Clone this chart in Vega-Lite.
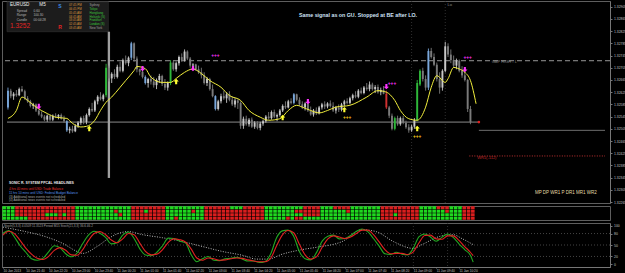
{
"$schema":"https://vega.github.io/schema/vega-lite/v6.json",
"background":"#000000",
"padding":0,
"spacing":1,
"resolve":{"scale":{"color":"independent"}},
"config":{"view":{"stroke":"#5e5e5e","strokeWidth":1},"font":"Liberation Sans","text":{"font":"Liberation Sans"},"axis":{"labelFont":"Liberation Sans"}},
"datasets":{
"candles":[
{"t":"2013-01-10T21:00","o":1.32575,"h":1.3264,"l":1.32568,"c":1.3263,"v":"rising"},
{"t":"2013-01-10T21:05","o":1.3263,"h":1.32636,"l":1.32605,"c":1.32612,"v":"down"},
{"t":"2013-01-10T21:10","o":1.32612,"h":1.32625,"l":1.326,"c":1.3262,"v":"up"},
{"t":"2013-01-10T21:15","o":1.3262,"h":1.32632,"l":1.3261,"c":1.32615,"v":"down"},
{"t":"2013-01-10T21:20","o":1.32615,"h":1.3264,"l":1.32612,"c":1.32635,"v":"up"},
{"t":"2013-01-10T21:25","o":1.32635,"h":1.32645,"l":1.32625,"c":1.32628,"v":"down"},
{"t":"2013-01-10T21:30","o":1.32628,"h":1.32633,"l":1.326,"c":1.32605,"v":"down"},
{"t":"2013-01-10T21:35","o":1.32605,"h":1.32612,"l":1.3259,"c":1.32595,"v":"down"},
{"t":"2013-01-10T21:40","o":1.32595,"h":1.326,"l":1.32575,"c":1.3258,"v":"down"},
{"t":"2013-01-10T21:45","o":1.3258,"h":1.3259,"l":1.3257,"c":1.32585,"v":"up"},
{"t":"2013-01-10T21:50","o":1.32585,"h":1.32588,"l":1.3256,"c":1.32565,"v":"down"},
{"t":"2013-01-10T21:55","o":1.32565,"h":1.32568,"l":1.32548,"c":1.32552,"v":"down"},
{"t":"2013-01-10T22:00","o":1.32552,"h":1.32562,"l":1.3254,"c":1.32545,"v":"down"},
{"t":"2013-01-10T22:05","o":1.32545,"h":1.3255,"l":1.3253,"c":1.32535,"v":"down"},
{"t":"2013-01-10T22:10","o":1.32535,"h":1.32552,"l":1.32528,"c":1.32548,"v":"up"},
{"t":"2013-01-10T22:15","o":1.32548,"h":1.32552,"l":1.3253,"c":1.32535,"v":"down"},
{"t":"2013-01-10T22:20","o":1.32535,"h":1.32552,"l":1.3253,"c":1.32548,"v":"up"},
{"t":"2013-01-10T22:25","o":1.32548,"h":1.32556,"l":1.3254,"c":1.32545,"v":"down"},
{"t":"2013-01-10T22:30","o":1.32545,"h":1.32553,"l":1.32536,"c":1.3255,"v":"up"},
{"t":"2013-01-10T22:35","o":1.3255,"h":1.32555,"l":1.32535,"c":1.32538,"v":"down"},
{"t":"2013-01-10T22:40","o":1.32538,"h":1.32548,"l":1.32525,"c":1.3253,"v":"down"},
{"t":"2013-01-10T22:45","o":1.3253,"h":1.32533,"l":1.32495,"c":1.325,"v":"rising"},
{"t":"2013-01-10T22:50","o":1.325,"h":1.32512,"l":1.3249,"c":1.32505,"v":"up"},
{"t":"2013-01-10T22:55","o":1.32505,"h":1.32515,"l":1.32492,"c":1.32497,"v":"down"},
{"t":"2013-01-10T23:00","o":1.32497,"h":1.3252,"l":1.32494,"c":1.32515,"v":"up"},
{"t":"2013-01-10T23:05","o":1.32515,"h":1.3253,"l":1.32508,"c":1.32525,"v":"up"},
{"t":"2013-01-10T23:10","o":1.32525,"h":1.32545,"l":1.32518,"c":1.3254,"v":"up"},
{"t":"2013-01-10T23:15","o":1.3254,"h":1.32548,"l":1.3252,"c":1.32528,"v":"down"},
{"t":"2013-01-10T23:20","o":1.32528,"h":1.32555,"l":1.3252,"c":1.3255,"v":"up"},
{"t":"2013-01-10T23:25","o":1.3255,"h":1.32575,"l":1.32545,"c":1.3257,"v":"up"},
{"t":"2013-01-10T23:30","o":1.3257,"h":1.3259,"l":1.3256,"c":1.32565,"v":"down"},
{"t":"2013-01-10T23:35","o":1.32565,"h":1.326,"l":1.3256,"c":1.32595,"v":"up"},
{"t":"2013-01-10T23:40","o":1.32595,"h":1.32615,"l":1.32585,"c":1.3261,"v":"up"},
{"t":"2013-01-10T23:45","o":1.3261,"h":1.32625,"l":1.32598,"c":1.32602,"v":"down"},
{"t":"2013-01-10T23:50","o":1.32602,"h":1.3262,"l":1.32595,"c":1.32615,"v":"up"},
{"t":"2013-01-10T23:55","o":1.32615,"h":1.32718,"l":1.32608,"c":1.32705,"v":"bull climax"},
{"t":"2013-01-11T00:00","o":1.32705,"h":1.32712,"l":1.3266,"c":1.3267,"v":"down"},
{"t":"2013-01-11T00:05","o":1.3267,"h":1.3269,"l":1.32655,"c":1.32685,"v":"up"},
{"t":"2013-01-11T00:10","o":1.32685,"h":1.327,"l":1.32668,"c":1.32675,"v":"down"},
{"t":"2013-01-11T00:15","o":1.32675,"h":1.32715,"l":1.3267,"c":1.32708,"v":"up"},
{"t":"2013-01-11T00:20","o":1.32708,"h":1.32725,"l":1.3269,"c":1.32695,"v":"down"},
{"t":"2013-01-11T00:25","o":1.32695,"h":1.32735,"l":1.3269,"c":1.3273,"v":"up"},
{"t":"2013-01-11T00:30","o":1.3273,"h":1.32745,"l":1.32715,"c":1.3272,"v":"down"},
{"t":"2013-01-11T00:35","o":1.3272,"h":1.32742,"l":1.3271,"c":1.32738,"v":"up"},
{"t":"2013-01-11T00:40","o":1.32738,"h":1.3279,"l":1.3273,"c":1.32785,"v":"rising"},
{"t":"2013-01-11T00:45","o":1.32785,"h":1.32788,"l":1.32725,"c":1.32735,"v":"down"},
{"t":"2013-01-11T00:50","o":1.32735,"h":1.32742,"l":1.3269,"c":1.327,"v":"down"},
{"t":"2013-01-11T00:55","o":1.327,"h":1.32702,"l":1.3268,"c":1.32692,"v":"down"},
{"t":"2013-01-11T01:00","o":1.32692,"h":1.32698,"l":1.3267,"c":1.32675,"v":"down"},
{"t":"2013-01-11T01:05","o":1.32675,"h":1.3268,"l":1.3265,"c":1.32655,"v":"rising"},
{"t":"2013-01-11T01:10","o":1.32655,"h":1.32672,"l":1.3264,"c":1.32668,"v":"up"},
{"t":"2013-01-11T01:15","o":1.32668,"h":1.3268,"l":1.3265,"c":1.3266,"v":"down"},
{"t":"2013-01-11T01:20","o":1.3266,"h":1.32675,"l":1.3264,"c":1.32648,"v":"down"},
{"t":"2013-01-11T01:25","o":1.32648,"h":1.3267,"l":1.32635,"c":1.32665,"v":"up"},
{"t":"2013-01-11T01:30","o":1.32665,"h":1.32685,"l":1.32655,"c":1.32678,"v":"up"},
{"t":"2013-01-11T01:35","o":1.32678,"h":1.32682,"l":1.32645,"c":1.32652,"v":"down"},
{"t":"2013-01-11T01:40","o":1.32652,"h":1.32668,"l":1.32632,"c":1.3264,"v":"down"},
{"t":"2013-01-11T01:45","o":1.3264,"h":1.3266,"l":1.3263,"c":1.32655,"v":"up"},
{"t":"2013-01-11T01:50","o":1.32655,"h":1.3273,"l":1.32648,"c":1.32722,"v":"bull climax"},
{"t":"2013-01-11T01:55","o":1.32722,"h":1.32728,"l":1.32695,"c":1.327,"v":"down"},
{"t":"2013-01-11T02:00","o":1.327,"h":1.32725,"l":1.32692,"c":1.3272,"v":"up"},
{"t":"2013-01-11T02:05","o":1.3272,"h":1.32745,"l":1.32712,"c":1.3274,"v":"up"},
{"t":"2013-01-11T02:10","o":1.3274,"h":1.32752,"l":1.32725,"c":1.3273,"v":"down"},
{"t":"2013-01-11T02:15","o":1.3273,"h":1.32765,"l":1.32725,"c":1.32758,"v":"up"},
{"t":"2013-01-11T02:20","o":1.32758,"h":1.32762,"l":1.3273,"c":1.32735,"v":"down"},
{"t":"2013-01-11T02:25","o":1.32735,"h":1.3274,"l":1.32705,"c":1.32712,"v":"down"},
{"t":"2013-01-11T02:30","o":1.32712,"h":1.3272,"l":1.32698,"c":1.32716,"v":"up"},
{"t":"2013-01-11T02:35","o":1.32716,"h":1.32718,"l":1.32695,"c":1.327,"v":"down"},
{"t":"2013-01-11T02:40","o":1.327,"h":1.32712,"l":1.32685,"c":1.3269,"v":"down"},
{"t":"2013-01-11T02:45","o":1.3269,"h":1.32705,"l":1.3267,"c":1.3268,"v":"down"},
{"t":"2013-01-11T02:50","o":1.3268,"h":1.3269,"l":1.3265,"c":1.32655,"v":"down"},
{"t":"2013-01-11T02:55","o":1.32655,"h":1.32675,"l":1.32645,"c":1.32668,"v":"up"},
{"t":"2013-01-11T03:00","o":1.32668,"h":1.32672,"l":1.3263,"c":1.32635,"v":"down"},
{"t":"2013-01-11T03:05","o":1.32635,"h":1.3265,"l":1.32608,"c":1.32612,"v":"down"},
{"t":"2013-01-11T03:10","o":1.32612,"h":1.32615,"l":1.32565,"c":1.3257,"v":"rising"},
{"t":"2013-01-11T03:15","o":1.3257,"h":1.326,"l":1.32565,"c":1.32595,"v":"up"},
{"t":"2013-01-11T03:20","o":1.32595,"h":1.3262,"l":1.32588,"c":1.32612,"v":"up"},
{"t":"2013-01-11T03:25","o":1.32612,"h":1.3263,"l":1.326,"c":1.32605,"v":"down"},
{"t":"2013-01-11T03:30","o":1.32605,"h":1.32625,"l":1.3259,"c":1.32618,"v":"up"},
{"t":"2013-01-11T03:35","o":1.32618,"h":1.32628,"l":1.32595,"c":1.326,"v":"down"},
{"t":"2013-01-11T03:40","o":1.326,"h":1.32612,"l":1.3258,"c":1.32585,"v":"down"},
{"t":"2013-01-11T03:45","o":1.32585,"h":1.32605,"l":1.32575,"c":1.32598,"v":"up"},
{"t":"2013-01-11T03:50","o":1.32598,"h":1.32602,"l":1.3257,"c":1.3259,"v":"down"},
{"t":"2013-01-11T03:55","o":1.3259,"h":1.32595,"l":1.32505,"c":1.32515,"v":"down"},
{"t":"2013-01-11T04:00","o":1.32515,"h":1.32545,"l":1.32505,"c":1.32538,"v":"up"},
{"t":"2013-01-11T04:05","o":1.32538,"h":1.32548,"l":1.32515,"c":1.3252,"v":"down"},
{"t":"2013-01-11T04:10","o":1.3252,"h":1.3254,"l":1.32512,"c":1.32535,"v":"up"},
{"t":"2013-01-11T04:15","o":1.32535,"h":1.32542,"l":1.32508,"c":1.32512,"v":"down"},
{"t":"2013-01-11T04:20","o":1.32512,"h":1.3253,"l":1.32505,"c":1.32525,"v":"up"},
{"t":"2013-01-11T04:25","o":1.32525,"h":1.3253,"l":1.32503,"c":1.32508,"v":"down"},
{"t":"2013-01-11T04:30","o":1.32508,"h":1.32528,"l":1.325,"c":1.32522,"v":"up"},
{"t":"2013-01-11T04:35","o":1.32522,"h":1.32535,"l":1.32515,"c":1.3253,"v":"up"},
{"t":"2013-01-11T04:40","o":1.3253,"h":1.3255,"l":1.32525,"c":1.32545,"v":"up"},
{"t":"2013-01-11T04:45","o":1.32545,"h":1.3256,"l":1.32535,"c":1.3254,"v":"down"},
{"t":"2013-01-11T04:50","o":1.3254,"h":1.32565,"l":1.32535,"c":1.3256,"v":"up"},
{"t":"2013-01-11T04:55","o":1.3256,"h":1.32568,"l":1.3254,"c":1.32545,"v":"down"},
{"t":"2013-01-11T05:00","o":1.32545,"h":1.32555,"l":1.3253,"c":1.3255,"v":"up"},
{"t":"2013-01-11T05:05","o":1.3255,"h":1.3257,"l":1.32545,"c":1.32565,"v":"up"},
{"t":"2013-01-11T05:10","o":1.32565,"h":1.32585,"l":1.3256,"c":1.3258,"v":"up"},
{"t":"2013-01-11T05:15","o":1.3258,"h":1.32595,"l":1.3257,"c":1.32575,"v":"down"},
{"t":"2013-01-11T05:20","o":1.32575,"h":1.326,"l":1.32572,"c":1.32595,"v":"up"},
{"t":"2013-01-11T05:25","o":1.32595,"h":1.32605,"l":1.32585,"c":1.3259,"v":"down"},
{"t":"2013-01-11T05:30","o":1.3259,"h":1.32622,"l":1.32585,"c":1.32618,"v":"rising"},
{"t":"2013-01-11T05:35","o":1.32618,"h":1.3262,"l":1.32595,"c":1.326,"v":"down"},
{"t":"2013-01-11T05:40","o":1.326,"h":1.32608,"l":1.3258,"c":1.32585,"v":"down"},
{"t":"2013-01-11T05:45","o":1.32585,"h":1.32595,"l":1.3257,"c":1.32575,"v":"down"},
{"t":"2013-01-11T05:50","o":1.32575,"h":1.32592,"l":1.32565,"c":1.32588,"v":"up"},
{"t":"2013-01-11T05:55","o":1.32588,"h":1.3259,"l":1.3256,"c":1.32565,"v":"down"},
{"t":"2013-01-11T06:00","o":1.32565,"h":1.32578,"l":1.32548,"c":1.32552,"v":"down"},
{"t":"2013-01-11T06:05","o":1.32552,"h":1.3257,"l":1.32545,"c":1.32565,"v":"up"},
{"t":"2013-01-11T06:10","o":1.32565,"h":1.32575,"l":1.3255,"c":1.32556,"v":"down"},
{"t":"2013-01-11T06:15","o":1.32556,"h":1.3258,"l":1.32552,"c":1.32575,"v":"up"},
{"t":"2013-01-11T06:20","o":1.32575,"h":1.3259,"l":1.32568,"c":1.32585,"v":"up"},
{"t":"2013-01-11T06:25","o":1.32585,"h":1.32595,"l":1.3257,"c":1.32578,"v":"down"},
{"t":"2013-01-11T06:30","o":1.32578,"h":1.32592,"l":1.32572,"c":1.32588,"v":"up"},
{"t":"2013-01-11T06:35","o":1.32588,"h":1.32598,"l":1.32575,"c":1.3258,"v":"down"},
{"t":"2013-01-11T06:40","o":1.3258,"h":1.32592,"l":1.3256,"c":1.32565,"v":"down"},
{"t":"2013-01-11T06:45","o":1.32565,"h":1.3258,"l":1.32555,"c":1.32575,"v":"up"},
{"t":"2013-01-11T06:50","o":1.32575,"h":1.32585,"l":1.3256,"c":1.32568,"v":"down"},
{"t":"2013-01-11T06:55","o":1.32568,"h":1.3259,"l":1.32562,"c":1.32585,"v":"up"},
{"t":"2013-01-11T07:00","o":1.32585,"h":1.326,"l":1.32578,"c":1.32595,"v":"up"},
{"t":"2013-01-11T07:05","o":1.32595,"h":1.32605,"l":1.32585,"c":1.3259,"v":"down"},
{"t":"2013-01-11T07:10","o":1.3259,"h":1.3261,"l":1.32585,"c":1.32605,"v":"up"},
{"t":"2013-01-11T07:15","o":1.32605,"h":1.3262,"l":1.32598,"c":1.32615,"v":"up"},
{"t":"2013-01-11T07:20","o":1.32615,"h":1.32628,"l":1.32605,"c":1.3261,"v":"down"},
{"t":"2013-01-11T07:25","o":1.3261,"h":1.32635,"l":1.32605,"c":1.3263,"v":"up"},
{"t":"2013-01-11T07:30","o":1.3263,"h":1.3264,"l":1.32618,"c":1.32622,"v":"down"},
{"t":"2013-01-11T07:35","o":1.32622,"h":1.32645,"l":1.32618,"c":1.3264,"v":"up"},
{"t":"2013-01-11T07:40","o":1.3264,"h":1.32655,"l":1.3263,"c":1.32635,"v":"down"},
{"t":"2013-01-11T07:45","o":1.32635,"h":1.3266,"l":1.32628,"c":1.3265,"v":"up"},
{"t":"2013-01-11T07:50","o":1.3265,"h":1.32656,"l":1.3263,"c":1.32635,"v":"down"},
{"t":"2013-01-11T07:55","o":1.32635,"h":1.32648,"l":1.32622,"c":1.32642,"v":"up"},
{"t":"2013-01-11T08:00","o":1.32642,"h":1.3265,"l":1.3262,"c":1.32625,"v":"down"},
{"t":"2013-01-11T08:05","o":1.32625,"h":1.3264,"l":1.32615,"c":1.32632,"v":"up"},
{"t":"2013-01-11T08:10","o":1.32632,"h":1.32645,"l":1.32618,"c":1.3262,"v":"down"},
{"t":"2013-01-11T08:15","o":1.3262,"h":1.3263,"l":1.3257,"c":1.32575,"v":"bear climax"},
{"t":"2013-01-11T08:20","o":1.32575,"h":1.3258,"l":1.3254,"c":1.32548,"v":"down"},
{"t":"2013-01-11T08:25","o":1.32548,"h":1.32555,"l":1.325,"c":1.32505,"v":"down"},
{"t":"2013-01-11T08:30","o":1.32505,"h":1.32545,"l":1.325,"c":1.3254,"v":"bull climax"},
{"t":"2013-01-11T08:35","o":1.3254,"h":1.32548,"l":1.32515,"c":1.3252,"v":"down"},
{"t":"2013-01-11T08:40","o":1.3252,"h":1.32545,"l":1.32515,"c":1.3254,"v":"up"},
{"t":"2013-01-11T08:45","o":1.3254,"h":1.32548,"l":1.3252,"c":1.32525,"v":"down"},
{"t":"2013-01-11T08:50","o":1.32525,"h":1.32532,"l":1.32505,"c":1.3251,"v":"down"},
{"t":"2013-01-11T08:55","o":1.3251,"h":1.3252,"l":1.32492,"c":1.325,"v":"down"},
{"t":"2013-01-11T09:00","o":1.325,"h":1.32518,"l":1.32495,"c":1.32512,"v":"up"},
{"t":"2013-01-11T09:05","o":1.32512,"h":1.3254,"l":1.32505,"c":1.32533,"v":"up"},
{"t":"2013-01-11T09:10","o":1.32533,"h":1.32665,"l":1.3253,"c":1.32655,"v":"bull climax"},
{"t":"2013-01-11T09:15","o":1.3265,"h":1.327,"l":1.32645,"c":1.32695,"v":"bull climax"},
{"t":"2013-01-11T09:20","o":1.32695,"h":1.32705,"l":1.3266,"c":1.32668,"v":"down"},
{"t":"2013-01-11T09:25","o":1.32668,"h":1.3268,"l":1.3263,"c":1.3264,"v":"down"},
{"t":"2013-01-11T09:30","o":1.3264,"h":1.32768,"l":1.32632,"c":1.3276,"v":"rising"},
{"t":"2013-01-11T09:35","o":1.3276,"h":1.3277,"l":1.32735,"c":1.3274,"v":"down"},
{"t":"2013-01-11T09:40","o":1.3274,"h":1.32752,"l":1.3271,"c":1.32715,"v":"down"},
{"t":"2013-01-11T09:45","o":1.32715,"h":1.32722,"l":1.3266,"c":1.32668,"v":"down"},
{"t":"2013-01-11T09:50","o":1.32668,"h":1.3269,"l":1.3262,"c":1.3264,"v":"down"},
{"t":"2013-01-11T09:55","o":1.3264,"h":1.327,"l":1.3263,"c":1.32695,"v":"up"},
{"t":"2013-01-11T10:00","o":1.32695,"h":1.3279,"l":1.3269,"c":1.32775,"v":"up"},
{"t":"2013-01-11T10:05","o":1.32775,"h":1.32785,"l":1.3274,"c":1.32748,"v":"down"},
{"t":"2013-01-11T10:10","o":1.32748,"h":1.32765,"l":1.3272,"c":1.3273,"v":"down"},
{"t":"2013-01-11T10:15","o":1.3273,"h":1.32745,"l":1.32705,"c":1.32712,"v":"down"},
{"t":"2013-01-11T10:20","o":1.32712,"h":1.32735,"l":1.327,"c":1.32728,"v":"up"},
{"t":"2013-01-11T10:25","o":1.32728,"h":1.32732,"l":1.3269,"c":1.32695,"v":"down"},
{"t":"2013-01-11T10:30","o":1.32695,"h":1.3271,"l":1.32672,"c":1.3268,"v":"down"},
{"t":"2013-01-11T10:35","o":1.3268,"h":1.327,"l":1.3266,"c":1.32665,"v":"down"},
{"t":"2013-01-11T10:40","o":1.32665,"h":1.32668,"l":1.3256,"c":1.3257,"v":"down"},
{"t":"2013-01-11T10:45","o":1.3257,"h":1.3258,"l":1.3252,"c":1.32527,"v":"down"}
],
"ma":[
{"t":"2013-01-10T21:00","m":1.32539},{"t":"2013-01-10T21:15","m":1.32565},{"t":"2013-01-10T21:25","m":1.32609},{"t":"2013-01-10T21:35","m":1.32598},{"t":"2013-01-10T21:50","m":1.32576},{"t":"2013-01-10T22:10","m":1.32555},{"t":"2013-01-10T22:25","m":1.32543},{"t":"2013-01-10T22:45","m":1.32539},{"t":"2013-01-10T22:55","m":1.32523},{"t":"2013-01-10T23:10","m":1.32511},{"t":"2013-01-10T23:20","m":1.32513},{"t":"2013-01-10T23:35","m":1.32533},{"t":"2013-01-10T23:45","m":1.32565},{"t":"2013-01-10T23:55","m":1.32592},
{"t":"2013-01-11T00:05","m":1.32609},{"t":"2013-01-11T00:20","m":1.32641},{"t":"2013-01-11T00:30","m":1.32663},{"t":"2013-01-11T00:45","m":1.32696},{"t":"2013-01-11T00:50","m":1.32709},{"t":"2013-01-11T01:05","m":1.32702},{"t":"2013-01-11T01:15","m":1.32674},{"t":"2013-01-11T01:35","m":1.32657},{"t":"2013-01-11T01:50","m":1.32657},{"t":"2013-01-11T02:00","m":1.3267},{"t":"2013-01-11T02:15","m":1.3269},{"t":"2013-01-11T02:30","m":1.32701},{"t":"2013-01-11T02:45","m":1.32686},{"t":"2013-01-11T03:00","m":1.32663},{"t":"2013-01-11T03:20","m":1.32641},{"t":"2013-01-11T03:35","m":1.32614},{"t":"2013-01-11T03:55","m":1.32598},{"t":"2013-01-11T04:10","m":1.32565},{"t":"2013-01-11T04:30","m":1.32543},{"t":"2013-01-11T04:45","m":1.32533},{"t":"2013-01-11T05:05","m":1.32538},{"t":"2013-01-11T05:20","m":1.32565},{"t":"2013-01-11T05:35","m":1.32582},{"t":"2013-01-11T05:45","m":1.32576},{"t":"2013-01-11T06:00","m":1.32565},{"t":"2013-01-11T06:15","m":1.32557},{"t":"2013-01-11T06:30","m":1.32565},{"t":"2013-01-11T06:45","m":1.32576},{"t":"2013-01-11T07:10","m":1.32582},{"t":"2013-01-11T07:40","m":1.32609},{"t":"2013-01-11T08:00","m":1.3263},{"t":"2013-01-11T08:15","m":1.32625},{"t":"2013-01-11T08:30","m":1.32598},{"t":"2013-01-11T08:40","m":1.32565},{"t":"2013-01-11T08:55","m":1.32538},{"t":"2013-01-11T09:10","m":1.32533},{"t":"2013-01-11T09:25","m":1.32576},{"t":"2013-01-11T09:35","m":1.32641},{"t":"2013-01-11T09:45","m":1.32679},{"t":"2013-01-11T10:00","m":1.32657},{"t":"2013-01-11T10:05","m":1.32669},{"t":"2013-01-11T10:15","m":1.32706},{"t":"2013-01-11T10:25","m":1.32701},{"t":"2013-01-11T10:35","m":1.3269},{"t":"2013-01-11T10:45","m":1.32663},{"t":"2013-01-11T10:55","m":1.32587}
],
"stoch":[
{"t":"2013-01-10T21:00","g":81,"r":76},{"t":"2013-01-10T21:10","g":88,"r":86},{"t":"2013-01-10T21:20","g":71,"r":80},{"t":"2013-01-10T21:30","g":48,"r":62},{"t":"2013-01-10T21:40","g":31,"r":42},{"t":"2013-01-10T21:50","g":14,"r":26},{"t":"2013-01-10T22:00","g":10,"r":15},{"t":"2013-01-10T22:10","g":15,"r":12},{"t":"2013-01-10T22:20","g":32,"r":20},{"t":"2013-01-10T22:30","g":48,"r":36},{"t":"2013-01-10T22:40","g":43,"r":43},{"t":"2013-01-10T22:50","g":27,"r":36},{"t":"2013-01-10T23:00","g":19,"r":24},{"t":"2013-01-10T23:10","g":29,"r":23},{"t":"2013-01-10T23:20","g":54,"r":38},{"t":"2013-01-10T23:30","g":76,"r":62},{"t":"2013-01-10T23:40","g":86,"r":80},{"t":"2013-01-10T23:50","g":81,"r":85},
{"t":"2013-01-11T00:00","g":70,"r":77},{"t":"2013-01-11T00:10","g":53,"r":63},{"t":"2013-01-11T00:20","g":56,"r":56},{"t":"2013-01-11T00:30","g":76,"r":66},{"t":"2013-01-11T00:40","g":84,"r":80},{"t":"2013-01-11T00:50","g":67,"r":77},{"t":"2013-01-11T01:00","g":40,"r":55},{"t":"2013-01-11T01:10","g":24,"r":33},{"t":"2013-01-11T01:20","g":22,"r":24},{"t":"2013-01-11T01:30","g":31,"r":26},{"t":"2013-01-11T01:40","g":48,"r":38},{"t":"2013-01-11T01:50","g":68,"r":57},{"t":"2013-01-11T02:00","g":67,"r":66},{"t":"2013-01-11T02:10","g":60,"r":64},{"t":"2013-01-11T02:20","g":56,"r":58},{"t":"2013-01-11T02:30","g":25,"r":40},{"t":"2013-01-11T02:40","g":6,"r":16},{"t":"2013-01-11T02:50","g":14,"r":10},{"t":"2013-01-11T03:00","g":20,"r":16},{"t":"2013-01-11T03:10","g":10,"r":14},{"t":"2013-01-11T03:20","g":9,"r":10},{"t":"2013-01-11T03:30","g":14,"r":11},{"t":"2013-01-11T03:40","g":15,"r":14},{"t":"2013-01-11T03:50","g":18,"r":16},{"t":"2013-01-11T04:00","g":13,"r":15},{"t":"2013-01-11T04:10","g":8,"r":11},{"t":"2013-01-11T04:20","g":8,"r":8},{"t":"2013-01-11T04:30","g":4,"r":6},{"t":"2013-01-11T04:40","g":7,"r":6},{"t":"2013-01-11T04:50","g":28,"r":16},{"t":"2013-01-11T05:00","g":69,"r":48},{"t":"2013-01-11T05:10","g":87,"r":76},{"t":"2013-01-11T05:20","g":89,"r":88},{"t":"2013-01-11T05:30","g":73,"r":82},{"t":"2013-01-11T05:40","g":33,"r":52},{"t":"2013-01-11T05:50","g":14,"r":24},{"t":"2013-01-11T06:00","g":11,"r":13},{"t":"2013-01-11T06:10","g":30,"r":19},{"t":"2013-01-11T06:20","g":60,"r":44},{"t":"2013-01-11T06:30","g":73,"r":66},{"t":"2013-01-11T06:40","g":76,"r":74},{"t":"2013-01-11T06:50","g":66,"r":71},{"t":"2013-01-11T07:00","g":67,"r":67},{"t":"2013-01-11T07:10","g":75,"r":71},{"t":"2013-01-11T07:20","g":86,"r":80},{"t":"2013-01-11T07:30","g":92,"r":89},{"t":"2013-01-11T07:40","g":85,"r":89},{"t":"2013-01-11T07:50","g":67,"r":77},{"t":"2013-01-11T08:00","g":47,"r":58},{"t":"2013-01-11T08:10","g":27,"r":38},{"t":"2013-01-11T08:20","g":25,"r":27},{"t":"2013-01-11T08:30","g":31,"r":28},{"t":"2013-01-11T08:40","g":26,"r":28},{"t":"2013-01-11T08:50","g":24,"r":25},{"t":"2013-01-11T09:00","g":42,"r":32},{"t":"2013-01-11T09:10","g":72,"r":56},{"t":"2013-01-11T09:20","g":79,"r":75},{"t":"2013-01-11T09:30","g":71,"r":76},{"t":"2013-01-11T09:40","g":60,"r":66},{"t":"2013-01-11T09:50","g":70,"r":65},{"t":"2013-01-11T10:00","g":79,"r":74},{"t":"2013-01-11T10:10","g":70,"r":74},{"t":"2013-01-11T10:20","g":53,"r":62},{"t":"2013-01-11T10:30","g":38,"r":46},{"t":"2013-01-11T10:40","g":23,"r":31},{"t":"2013-01-11T10:45","g":5,"r":22}
],
"stochSlow":[
{"t":"2013-01-10T21:00","w":97},{"t":"2013-01-10T21:40","w":85},{"t":"2013-01-10T22:10","w":74},{"t":"2013-01-10T22:45","w":54},{"t":"2013-01-10T23:10","w":33},{"t":"2013-01-10T23:20","w":28},{"t":"2013-01-10T23:45","w":46},{"t":"2013-01-11T00:05","w":67},{"t":"2013-01-11T00:20","w":79},{"t":"2013-01-11T00:40","w":85},{"t":"2013-01-11T01:05","w":77},{"t":"2013-01-11T01:40","w":69},{"t":"2013-01-11T02:15","w":59},{"t":"2013-01-11T02:50","w":46},{"t":"2013-01-11T03:25","w":33},{"t":"2013-01-11T04:00","w":23},{"t":"2013-01-11T04:25","w":13},{"t":"2013-01-11T04:45","w":13},{"t":"2013-01-11T05:10","w":26},{"t":"2013-01-11T05:45","w":38},{"t":"2013-01-11T06:10","w":44},{"t":"2013-01-11T06:55","w":59},{"t":"2013-01-11T07:30","w":90},{"t":"2013-01-11T07:55","w":85},{"t":"2013-01-11T08:25","w":59},{"t":"2013-01-11T09:00","w":41},{"t":"2013-01-11T09:15","w":51},{"t":"2013-01-11T09:50","w":74},{"t":"2013-01-11T10:10","w":77},{"t":"2013-01-11T10:25","w":67},{"t":"2013-01-11T10:45","w":51}
],
"heat":[
{"c":0,"r1":"g","r2":"g","r3":"g","r4":"g"},{"c":1,"r1":"g","r2":"g","r3":"g","r4":"g"},{"c":2,"r1":"g","r2":"g","r3":"g","r4":"g"},
{"c":3,"r1":"r","r2":"r","r3":"r","r4":"g"},{"c":4,"r1":"r","r2":"r","r3":"r","r4":"g"},{"c":5,"r1":"r","r2":"r","r3":"r","r4":"g"},
{"c":6,"r1":"r","r2":"r","r3":"r","r4":"r"},{"c":7,"r1":"r","r2":"r","r3":"r","r4":"r"},{"c":8,"r1":"r","r2":"r","r3":"r","r4":"r"},{"c":9,"r1":"r","r2":"r","r3":"r","r4":"r"},
{"c":10,"r1":"r","r2":"r","r3":"g","r4":"r"},{"c":11,"r1":"r","r2":"r","r3":"g","r4":"r"},{"c":12,"r1":"r","r2":"r","r3":"g","r4":"r"},
{"c":13,"r1":"r","r2":"r","r3":"r","r4":"r"},{"c":14,"r1":"r","r2":"r","r3":"g","r4":"r"},{"c":15,"r1":"r","r2":"r","r3":"r","r4":"r"},{"c":16,"r1":"r","r2":"r","r3":"r","r4":"r"},
{"c":17,"r1":"g","r2":"g","r3":"g","r4":"g"},{"c":18,"r1":"g","r2":"g","r3":"g","r4":"g"},{"c":19,"r1":"g","r2":"g","r3":"g","r4":"g"},{"c":20,"r1":"g","r2":"g","r3":"g","r4":"g"},{"c":21,"r1":"g","r2":"g","r3":"g","r4":"g"},{"c":22,"r1":"g","r2":"g","r3":"g","r4":"g"},{"c":23,"r1":"g","r2":"g","r3":"g","r4":"g"},{"c":24,"r1":"g","r2":"g","r3":"g","r4":"g"},{"c":25,"r1":"g","r2":"g","r3":"g","r4":"g"},
{"c":26,"r1":"g","r2":"r","r3":"g","r4":"g"},{"c":27,"r1":"g","r2":"g","r3":"r","r4":"g"},{"c":28,"r1":"g","r2":"g","r3":"g","r4":"g"},{"c":29,"r1":"g","r2":"g","r3":"g","r4":"g"},
{"c":30,"r1":"r","r2":"r","r3":"r","r4":"r"},{"c":31,"r1":"r","r2":"r","r3":"r","r4":"r"},{"c":32,"r1":"r","r2":"r","r3":"r","r4":"r"},{"c":33,"r1":"r","r2":"g","r3":"r","r4":"r"},{"c":34,"r1":"r","r2":"r","r3":"r","r4":"r"},{"c":35,"r1":"r","r2":"r","r3":"r","r4":"r"},{"c":36,"r1":"r","r2":"r","r3":"r","r4":"r"},{"c":37,"r1":"r","r2":"r","r3":"r","r4":"r"},
{"c":38,"r1":"g","r2":"g","r3":"g","r4":"g"},{"c":39,"r1":"g","r2":"g","r3":"g","r4":"g"},{"c":40,"r1":"g","r2":"g","r3":"g","r4":"r"},{"c":41,"r1":"g","r2":"g","r3":"g","r4":"g"},{"c":42,"r1":"g","r2":"g","r3":"g","r4":"g"},{"c":43,"r1":"g","r2":"g","r3":"g","r4":"g"},{"c":44,"r1":"g","r2":"r","r3":"g","r4":"g"},{"c":45,"r1":"g","r2":"g","r3":"g","r4":"g"},{"c":46,"r1":"g","r2":"g","r3":"g","r4":"g"},
{"c":47,"r1":"r","r2":"r","r3":"r","r4":"r"},{"c":48,"r1":"r","r2":"r","r3":"r","r4":"r"},{"c":49,"r1":"r","r2":"r","r3":"r","r4":"r"},{"c":50,"r1":"r","r2":"r","r3":"r","r4":"r"},{"c":51,"r1":"r","r2":"r","r3":"r","r4":"r"},{"c":52,"r1":"r","r2":"r","r3":"r","r4":"r"},
{"c":53,"r1":"g","r2":"r","r3":"r","r4":"r"},{"c":54,"r1":"g","r2":"r","r3":"r","r4":"r"},{"c":55,"r1":"g","r2":"r","r3":"r","r4":"r"},
{"c":56,"r1":"r","r2":"r","r3":"r","r4":"r"},{"c":57,"r1":"r","r2":"r","r3":"r","r4":"r"},{"c":58,"r1":"r","r2":"r","r3":"r","r4":"r"},{"c":59,"r1":"r","r2":"r","r3":"r","r4":"r"},{"c":60,"r1":"r","r2":"r","r3":"r","r4":"r"},
{"c":61,"r1":"g","r2":"g","r3":"g","r4":"g"},{"c":62,"r1":"g","r2":"g","r3":"g","r4":"g"},{"c":63,"r1":"g","r2":"g","r3":"g","r4":"g"},{"c":64,"r1":"g","r2":"g","r3":"g","r4":"g"},{"c":65,"r1":"g","r2":"g","r3":"g","r4":"g"},{"c":66,"r1":"g","r2":"g","r3":"g","r4":"r"},{"c":67,"r1":"g","r2":"g","r3":"g","r4":"g"},
{"c":68,"r1":"g","r2":"r","r3":"g","r4":"r"},{"c":69,"r1":"g","r2":"r","r3":"g","r4":"r"},
{"c":70,"r1":"r","r2":"r","r3":"r","r4":"g"},{"c":71,"r1":"r","r2":"r","r3":"r","r4":"g"},{"c":72,"r1":"r","r2":"r","r3":"r","r4":"g"},{"c":73,"r1":"r","r2":"r","r3":"r","r4":"g"},
{"c":74,"r1":"g","r2":"g","r3":"g","r4":"g"},{"c":75,"r1":"g","r2":"g","r3":"g","r4":"g"},{"c":76,"r1":"g","r2":"g","r3":"g","r4":"g"},
{"c":77,"r1":"r","r2":"g","r3":"g","r4":"g"},{"c":78,"r1":"r","r2":"g","r3":"g","r4":"g"},{"c":79,"r1":"r","r2":"g","r3":"g","r4":"g"},{"c":80,"r1":"r","r2":"r","r3":"g","r4":"g"},
{"c":81,"r1":"g","r2":"g","r3":"g","r4":"g"},{"c":82,"r1":"g","r2":"g","r3":"g","r4":"g"},{"c":83,"r1":"g","r2":"g","r3":"g","r4":"g"},{"c":84,"r1":"g","r2":"g","r3":"g","r4":"g"},{"c":85,"r1":"g","r2":"g","r3":"g","r4":"g"},{"c":86,"r1":"g","r2":"g","r3":"g","r4":"g"},{"c":87,"r1":"g","r2":"g","r3":"g","r4":"g"},
{"c":88,"r1":"r","r2":"r","r3":"r","r4":"r"},{"c":89,"r1":"r","r2":"r","r3":"r","r4":"r"},{"c":90,"r1":"r","r2":"r","r3":"r","r4":"r"},{"c":91,"r1":"r","r2":"r","r3":"g","r4":"r"},{"c":92,"r1":"r","r2":"r","r3":"r","r4":"r"},{"c":93,"r1":"r","r2":"r","r3":"r","r4":"r"},{"c":94,"r1":"r","r2":"r","r3":"r","r4":"r"},{"c":95,"r1":"r","r2":"r","r3":"r","r4":"r"},{"c":96,"r1":"r","r2":"r","r3":"r","r4":"r"},
{"c":97,"r1":"g","r2":"g","r3":"g","r4":"g"},{"c":98,"r1":"g","r2":"g","r3":"g","r4":"g"},{"c":99,"r1":"g","r2":"g","r3":"g","r4":"g"},{"c":100,"r1":"g","r2":"g","r3":"g","r4":"g"},
{"c":101,"r1":"r","r2":"g","r3":"g","r4":"g"},{"c":102,"r1":"r","r2":"g","r3":"g","r4":"g"},{"c":103,"r1":"r","r2":"r","r3":"g","r4":"g"},
{"c":104,"r1":"g","r2":"g","r3":"g","r4":"g"},{"c":105,"r1":"g","r2":"g","r3":"g","r4":"g"},{"c":106,"r1":"g","r2":"g","r3":"g","r4":"g"},
{"c":107,"r1":"r","r2":"r","r3":"r","r4":"r"},{"c":108,"r1":"r","r2":"r","r3":"r","r4":"r"},{"c":109,"r1":"r","r2":"r","r3":"r","r4":"r"}
],
"sigDown":[{"t":"2013-01-10T21:55","p":1.32578},{"t":"2013-01-11T01:00","p":1.32702},{"t":"2013-01-11T02:30","p":1.32702},{"t":"2013-01-11T05:55","p":1.32594},{"t":"2013-01-11T08:15","p":1.32643},{"t":"2013-01-11T10:35","p":1.32699}],
"sigUp":[{"t":"2013-01-10T23:25","p":1.32506},{"t":"2013-01-11T02:00","p":1.3266},{"t":"2013-01-11T05:10","p":1.32542},{"t":"2013-01-11T07:00","p":1.32568},{"t":"2013-01-11T09:10","p":1.32506}],
"plusM":[{"t":"2013-01-11T03:10","p":1.32744},{"t":"2013-01-11T08:25","p":1.32653},{"t":"2013-01-11T10:40","p":1.32738}],
"plusY":[{"t":"2013-01-11T07:05","p":1.32539},{"t":"2013-01-11T09:10","p":1.32477}],
"one":[{}]
},
"vconcat":[
{
"width":608,"height":202,
"resolve":{"axis":{"x":"independent","y":"independent"}},
"layer":[
{"data":{"values":[{"t1":"2013-01-10T20:58:15","t2":"2013-01-10T23:59","p1":1.32921,"p2":1.32823}]},
 "mark":{"type":"rect","fill":"#1c1c1c","stroke":"#333333","strokeWidth":0.6},
 "encoding":{"x":{"field":"t1","type":"temporal","axis":null,"scale":{"domain":[{"year":2013,"month":1,"date":10,"hours":20,"minutes":58,"seconds":15},{"year":2013,"month":1,"date":11,"hours":14,"minutes":45}],"nice":false}},
  "x2":{"field":"t2"},
  "y":{"field":"p1","type":"quantitative","scale":{"domain":[1.32262,1.329236],"nice":false,"zero":false},
   "axis":{"orient":"right","title":null,"grid":false,"values":[1.32905,1.32865,1.32825,1.32785,1.32745,1.32705,1.32665,1.32625,1.32585,1.32545,1.32505,1.32465,1.32425,1.32385,1.32345,1.32305,1.32265],"format":".5f","labelFontSize":3.4,"labelColor":"#c0c0c0","tickSize":2,"tickColor":"#777777","domainColor":"#777777","labelPadding":1.5}},
  "y2":{"field":"p2"}}},
{"data":{"name":"one"},"mark":{"type":"rule","color":"#a8a8a8","strokeDash":[5,3],"strokeWidth":0.9},"encoding":{"y":{"datum":1.32728,"type":"quantitative","axis":null}}},
{"data":{"name":"one"},"mark":{"type":"rule","color":"#9a9a9a","strokeWidth":0.9},"encoding":{"x":{"datum":{"year":2013,"month":1,"date":10,"hours":20,"minutes":58,"seconds":15},"type":"temporal","axis":null},"x2":{"datum":{"year":2013,"month":1,"date":11,"hours":11,"minutes":0}},"y":{"datum":1.32527,"type":"quantitative","axis":null}}},
{"data":{"name":"one"},"mark":{"type":"rule","color":"#7a7a7a","strokeWidth":0.9},"encoding":{"x":{"datum":{"year":2013,"month":1,"date":11,"hours":11,"minutes":0},"type":"temporal","axis":null},"x2":{"datum":{"year":2013,"month":1,"date":11,"hours":14,"minutes":45}},"y":{"datum":1.325,"type":"quantitative","axis":null}}},
{"data":{"name":"one"},"mark":{"type":"rule","color":"#c03030","strokeDash":[1,1.5],"strokeWidth":1},"encoding":{"x":{"datum":{"year":2013,"month":1,"date":11,"hours":10,"minutes":43},"type":"temporal","axis":null},"x2":{"datum":{"year":2013,"month":1,"date":11,"hours":14,"minutes":45}},"y":{"datum":1.32416,"type":"quantitative","axis":null}}},
{"data":{"values":[{"t":"2013-01-11T09:00"},{"t":"2013-01-11T10:00"}]},"mark":{"type":"rule","color":"#3c3c3c","strokeDash":[1,2],"strokeWidth":0.8},"encoding":{"x":{"field":"t","type":"temporal","axis":null}}},
{"data":{"name":"one"},"mark":{"type":"rule","color":"#a0a0a0","strokeWidth":2.3},"encoding":{"x":{"datum":{"year":2013,"month":1,"date":11,"hours":0,"minutes":0},"type":"temporal","axis":null},"y":{"datum":1.32823,"type":"quantitative","axis":null},"y2":{"datum":1.32344}}},
{"data":{"name":"candles"},"mark":{"type":"rule","strokeWidth":0.9},
 "encoding":{"x":{"field":"t","type":"temporal","axis":null},"y":{"field":"l","type":"quantitative","axis":null},"y2":{"field":"h"},
  "color":{"field":"v","type":"nominal","scale":{"domain":["up","down","bull climax","bear climax","rising"],"range":["#c8c8c8","#7a7a7a","#2fb83a","#d03030","#7aa7da"]},"legend":null}}},
{"data":{"name":"candles"},"mark":{"type":"bar","size":1.9},
 "encoding":{"x":{"field":"t","type":"temporal","axis":null},"y":{"field":"o","type":"quantitative","axis":null},"y2":{"field":"c"},
  "color":{"field":"v","type":"nominal","legend":null}}},
{"data":{"name":"ma"},"mark":{"type":"line","color":"#f2ef3c","strokeWidth":1,"interpolate":"monotone"},
 "encoding":{"x":{"field":"t","type":"temporal","axis":null},"y":{"field":"m","type":"quantitative","axis":null}}},
{"data":{"name":"sigDown"},"mark":{"type":"point","shape":"M-0.4,-1H0.4V0H1L0,1L-1,0H-0.4Z","size":28,"filled":true,"opacity":1,"color":"#ff33ff","strokeWidth":0},
 "encoding":{"x":{"field":"t","type":"temporal","axis":null},"y":{"field":"p","type":"quantitative","axis":null}}},
{"data":{"name":"sigUp"},"mark":{"type":"point","shape":"M-0.4,1H0.4V0H1L0,-1L-1,0H-0.4Z","size":28,"filled":true,"opacity":1,"color":"#ffff33","strokeWidth":0},
 "encoding":{"x":{"field":"t","type":"temporal","axis":null},"y":{"field":"p","type":"quantitative","axis":null}}},
{"data":{"name":"plusM"},"mark":{"type":"text","text":"+++","fontSize":4.8,"fontWeight":"bold","color":"#ff33ff","baseline":"middle"},
 "encoding":{"x":{"field":"t","type":"temporal","axis":null},"y":{"field":"p","type":"quantitative","axis":null}}},
{"data":{"name":"plusY"},"mark":{"type":"text","text":"+++","fontSize":4.8,"fontWeight":"bold","color":"#ffd21e","baseline":"middle"},
 "encoding":{"x":{"field":"t","type":"temporal","axis":null},"y":{"field":"p","type":"quantitative","axis":null}}},
{"data":{"values":[{"t":"2013-01-11T11:00","p":1.32527}]},"mark":{"type":"point","filled":true,"color":"#e02020","size":7,"opacity":1},
 "encoding":{"x":{"field":"t","type":"temporal","axis":null},"y":{"field":"p","type":"quantitative","axis":null}}},
{"data":{"values":[{"t":"2013-01-11T07:24:30","p":1.32878,"s":"Same signal as on GU. Stopped at BE after LO."}]},"mark":{"type":"text","fontSize":5.3,"fontWeight":"bold","color":"#cfe3f7","baseline":"middle","align":"center"},
 "encoding":{"x":{"field":"t","type":"temporal","axis":null},"y":{"field":"p","type":"quantitative","axis":null},"text":{"field":"s"}}},
{"data":{"values":[{"t":"2013-01-11T11:23","p":1.32723,"s":"GBP HIGH - L"},{"t":"2013-01-11T10:04","p":1.32911,"s":"Lo"}]},"mark":{"type":"text","fontSize":4,"color":"#8c8c8c","baseline":"middle","align":"left"},
 "encoding":{"x":{"field":"t","type":"temporal","axis":null},"y":{"field":"p","type":"quantitative","axis":null},"text":{"field":"s"}}},
{"data":{"values":[{"t":"2013-01-11T10:57","p":1.32408,"s":"WR1(-112)"}]},"mark":{"type":"text","fontSize":4,"color":"#c02828","baseline":"middle","align":"left"},
 "encoding":{"x":{"field":"t","type":"temporal","axis":null},"y":{"field":"p","type":"quantitative","axis":null},"text":{"field":"s"}}},
{"data":{"values":[{"t":"2013-01-11T12:40","p":1.32294,"s":"MP DP WR1 P DR1 MR1 WR2"}]},"mark":{"type":"text","fontSize":4.5,"color":"#e6dca8","baseline":"middle","align":"left"},
 "encoding":{"x":{"field":"t","type":"temporal","axis":null},"y":{"field":"p","type":"quantitative","axis":null},"text":{"field":"s"}}},
{"data":{"values":[{"t":"2013-01-10T21:01:45","p":1.32326,"s":"SONIC R. SYSTEM  PPCAL HEADLINES"}]},"mark":{"type":"text","fontSize":3.5,"fontWeight":"bold","color":"#e8e8e8","baseline":"middle","align":"left"},
 "encoding":{"x":{"field":"t","type":"temporal","axis":null},"y":{"field":"p","type":"quantitative","axis":null},"text":{"field":"s"}}},
{"data":{"values":[{"t":"2013-01-10T21:01:45","p":1.3231,"s":"4 hrs 40 mins until USD: Trade Balance"}]},"mark":{"type":"text","fontSize":3.1,"color":"#e03030","baseline":"middle","align":"left"},
 "encoding":{"x":{"field":"t","type":"temporal","axis":null},"y":{"field":"p","type":"quantitative","axis":null},"text":{"field":"s"}}},
{"data":{"values":[{"t":"2013-01-10T21:01:45","p":1.32297,"s":"11 hrs 10 mins until USD: Federal Budget Balance"}]},"mark":{"type":"text","fontSize":3.1,"color":"#5a96ea","baseline":"middle","align":"left"},
 "encoding":{"x":{"field":"t","type":"temporal","axis":null},"y":{"field":"p","type":"quantitative","axis":null},"text":{"field":"s"}}},
{"data":{"values":[{"t":"2013-01-10T21:01:45","p":1.32283,"s":"(3)  Additional news events not scheduled"},{"t":"2013-01-10T21:01:45","p":1.32271,"s":"(4)  Additional news events not scheduled"}]},"mark":{"type":"text","fontSize":3.1,"color":"#a8a8a8","baseline":"middle","align":"left"},
 "encoding":{"x":{"field":"t","type":"temporal","axis":null},"y":{"field":"p","type":"quantitative","axis":null},"text":{"field":"s"}}},
{"data":{"values":[{"t":"2013-01-10T21:03:30","p":1.32909,"s":"EURUSD"},{"t":"2013-01-10T21:56","p":1.32909,"s":"M5"}]},"mark":{"type":"text","fontSize":4.6,"color":"#f0f0f0","baseline":"middle","align":"left"},
 "encoding":{"x":{"field":"t","type":"temporal","axis":null},"y":{"field":"p","type":"quantitative","axis":null},"text":{"field":"s"}}},
{"data":{"values":[{"t":"2013-01-10T21:15:45","p":1.32892,"s":"Spread"},{"t":"2013-01-10T21:15:45","p":1.32877,"s":"Range"},{"t":"2013-01-10T21:15:45","p":1.32862,"s":"Candle"},{"t":"2013-01-10T21:45:30","p":1.32892,"s":"0.60"},{"t":"2013-01-10T21:45:30","p":1.32877,"s":"100.30"},{"t":"2013-01-10T21:45:30","p":1.32862,"s":"00:04:28"}]},"mark":{"type":"text","fontSize":3.2,"color":"#b8b8b8","baseline":"middle","align":"left"},
 "encoding":{"x":{"field":"t","type":"temporal","axis":null},"y":{"field":"p","type":"quantitative","axis":null},"text":{"field":"s"}}},
{"data":{"values":[{"t":"2013-01-10T21:03:30","p":1.32842,"s":"1.3252"}]},"mark":{"type":"text","fontSize":6.6,"color":"#e02424","baseline":"middle","align":"left"},
 "encoding":{"x":{"field":"t","type":"temporal","axis":null},"y":{"field":"p","type":"quantitative","axis":null},"text":{"field":"s"}}},
{"data":{"values":[{"t":"2013-01-10T22:29:30","p":1.32908,"s":"S"}]},"mark":{"type":"text","fontSize":5,"fontWeight":"bold","color":"#3c8ce6","baseline":"middle","align":"left"},
 "encoding":{"x":{"field":"t","type":"temporal","axis":null},"y":{"field":"p","type":"quantitative","axis":null},"text":{"field":"s"}}},
{"data":{"values":[{"t":"2013-01-10T22:29:30","p":1.3284,"s":"R"}]},"mark":{"type":"text","fontSize":5,"fontWeight":"bold","color":"#e02424","baseline":"middle","align":"left"},
 "encoding":{"x":{"field":"t","type":"temporal","axis":null},"y":{"field":"p","type":"quantitative","axis":null},"text":{"field":"s"}}},
{"data":{"values":[{"t":"2013-01-10T22:48:45","p":1.3291,"s":"07:45 PM"},{"t":"2013-01-10T22:48:45","p":1.32898,"s":"06:45 PM"},{"t":"2013-01-10T22:48:45","p":1.32885,"s":"05:45 AM"},{"t":"2013-01-10T22:48:45","p":1.32873,"s":"04:45 AM"},{"t":"2013-01-10T22:48:45","p":1.32861,"s":"03:45 AM"},{"t":"2013-01-10T22:48:45","p":1.32848,"s":"02:45 AM"},{"t":"2013-01-10T22:48:45","p":1.32835,"s":"03:45 AM"}]},"mark":{"type":"text","fontSize":3,"color":"#d8923c","baseline":"middle","align":"left"},
 "encoding":{"x":{"field":"t","type":"temporal","axis":null},"y":{"field":"p","type":"quantitative","axis":null},"text":{"field":"s"}}},
{"data":{"values":[{"t":"2013-01-10T23:25:30","p":1.32898,"s":"Tokyo"},{"t":"2013-01-10T23:25:30","p":1.32885,"s":"Hongkong"},{"t":"2013-01-10T23:25:30","p":1.32873,"s":"Helsinki (S)"},{"t":"2013-01-10T23:25:30","p":1.32861,"s":"Frankfurt"},{"t":"2013-01-10T23:25:30","p":1.32848,"s":"London (S)"}]},"mark":{"type":"text","fontSize":3,"color":"#3cc83c","baseline":"middle","align":"left"},
 "encoding":{"x":{"field":"t","type":"temporal","axis":null},"y":{"field":"p","type":"quantitative","axis":null},"text":{"field":"s"}}},
{"data":{"values":[{"t":"2013-01-10T23:25:30","p":1.3291,"s":"Sydney"},{"t":"2013-01-10T23:25:30","p":1.32835,"s":"New York"}]},"mark":{"type":"text","fontSize":3,"color":"#a0a0a0","baseline":"middle","align":"left"},
 "encoding":{"x":{"field":"t","type":"temporal","axis":null},"y":{"field":"p","type":"quantitative","axis":null},"text":{"field":"s"}}}
]
},
{
"width":608,"height":14,
"data":{"name":"heat"},
"transform":[{"fold":["r1","r2","r3","r4"],"as":["row","st"]}],
"mark":{"type":"point","shape":"M-0.9,-0.75H0.9V0.75H-0.9Z","size":16,"filled":true,"opacity":1,"strokeWidth":0},
"encoding":{
 "x":{"field":"c","type":"quantitative","scale":{"domain":[-0.5,140.9],"nice":false,"zero":false},"axis":null},
 "y":{"field":"row","type":"nominal","sort":["r1","r2","r3","r4"],"axis":null},
 "color":{"field":"st","type":"nominal","scale":{"domain":["g","r"],"range":["#1fd81f","#d91e1e"]},"legend":null}
}
},
{
"width":608,"height":44,
"resolve":{"axis":{"x":"independent","y":"independent"}},
"layer":[
{"data":{"values":[{"lv":80},{"lv":50},{"lv":20}]},"mark":{"type":"rule","color":"#555555","strokeDash":[1,2],"strokeWidth":0.8},
 "encoding":{"y":{"field":"lv","type":"quantitative","scale":{"domain":[-7.7,107.7],"nice":false,"zero":false},
  "axis":{"orient":"right","title":null,"grid":false,"values":[100,80,50,20,0],"labelFontSize":3.4,"labelColor":"#c0c0c0","tickSize":2,"tickColor":"#777777","domainColor":"#777777","labelPadding":1.5}}}},
{"data":{"values":[{"t":"2013-01-11T09:00"},{"t":"2013-01-11T10:00"}]},"mark":{"type":"rule","color":"#3c3c3c","strokeDash":[1,2],"strokeWidth":0.8},
 "encoding":{"x":{"field":"t","type":"temporal","scale":{"domain":[{"year":2013,"month":1,"date":10,"hours":20,"minutes":58,"seconds":15},{"year":2013,"month":1,"date":11,"hours":14,"minutes":45}],"nice":false},
  "axis":{"orient":"bottom","title":null,"grid":false,"labelAlign":"left","labelBaseline":"top","labelFontSize":3.2,"labelColor":"#c0c0c0","tickSize":1,"tickColor":"#777777","domainColor":"#777777","labelPadding":0.5,"labelOverlap":false,"labelFlush":false,
   "values":[{"year":2013,"month":1,"date":10,"hours":21,"minutes":0},{"year":2013,"month":1,"date":10,"hours":21,"minutes":40},{"year":2013,"month":1,"date":10,"hours":22,"minutes":20},{"year":2013,"month":1,"date":10,"hours":23,"minutes":0},{"year":2013,"month":1,"date":10,"hours":23,"minutes":40},{"year":2013,"month":1,"date":11,"hours":0,"minutes":20},{"year":2013,"month":1,"date":11,"hours":1,"minutes":0},{"year":2013,"month":1,"date":11,"hours":1,"minutes":40},{"year":2013,"month":1,"date":11,"hours":2,"minutes":20},{"year":2013,"month":1,"date":11,"hours":3,"minutes":0},{"year":2013,"month":1,"date":11,"hours":3,"minutes":40},{"year":2013,"month":1,"date":11,"hours":4,"minutes":20},{"year":2013,"month":1,"date":11,"hours":5,"minutes":0},{"year":2013,"month":1,"date":11,"hours":5,"minutes":40},{"year":2013,"month":1,"date":11,"hours":6,"minutes":20},{"year":2013,"month":1,"date":11,"hours":7,"minutes":0},{"year":2013,"month":1,"date":11,"hours":7,"minutes":40},{"year":2013,"month":1,"date":11,"hours":8,"minutes":20},{"year":2013,"month":1,"date":11,"hours":9,"minutes":0},{"year":2013,"month":1,"date":11,"hours":9,"minutes":40},{"year":2013,"month":1,"date":11,"hours":10,"minutes":20}],
   "labelExpr":"hours(datum.value) == 21 && minutes(datum.value) == 0 ? timeFormat(datum.value, '%d %b %Y') : timeFormat(datum.value, '%d %b %H:%M')"}}}},
{"data":{"name":"stochSlow"},"mark":{"type":"line","color":"#cfcfcf","strokeWidth":0.9,"strokeDash":[1,1.5],"interpolate":"monotone"},
 "encoding":{"x":{"field":"t","type":"temporal","axis":null},"y":{"field":"w","type":"quantitative","axis":null}}},
{"data":{"name":"stoch"},"mark":{"type":"line","color":"#22a822","strokeWidth":1.1,"interpolate":"monotone"},
 "encoding":{"x":{"field":"t","type":"temporal","axis":null},"y":{"field":"g","type":"quantitative","axis":null}}},
{"data":{"name":"stoch"},"mark":{"type":"line","color":"#e02222","strokeWidth":1.1,"interpolate":"monotone"},
 "encoding":{"x":{"field":"t","type":"temporal","axis":null},"y":{"field":"r","type":"quantitative","axis":null}}},
{"data":{"values":[{"t":"2013-01-10T21:01:45","v":101,"s":"Stoch(5,3,3) 4.0509 11.3523   Period M15 Stoch(21,3,3) 36.6 46.2"}]},"mark":{"type":"text","fontSize":3.1,"color":"#a0a0a0","baseline":"middle","align":"left"},
 "encoding":{"x":{"field":"t","type":"temporal","axis":null},"y":{"field":"v","type":"quantitative","axis":null},"text":{"field":"s"}}}
]
}
]
}
